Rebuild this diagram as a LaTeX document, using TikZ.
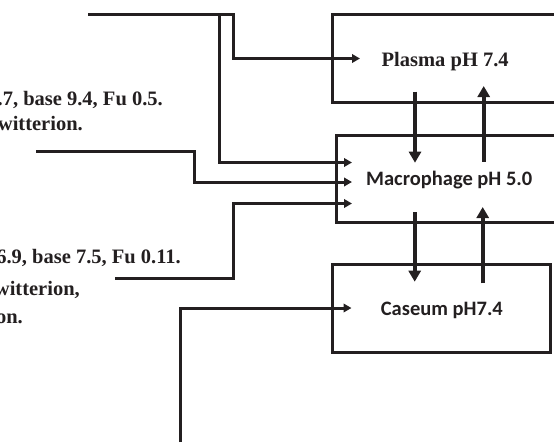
\documentclass[tikz,border=0pt]{standalone}
\usepackage{fontspec}
\setmainfont{Liberation Serif}
\newfontfamily\calibfont{Carlito}
\usetikzlibrary{arrows.meta}
\definecolor{ink}{HTML}{231F20}
\tikzset{
  box/.style={draw=ink, line width=3pt, rectangle, inner sep=0pt, outer sep=0pt, anchor=north west},
  conn/.style={draw=ink, line width=3pt, line join=miter},
  inarrow/.style={conn, -{Triangle[length=8pt,width=8.5pt]}},
  vflow/.style={draw=ink, line width=3.6pt, -{Triangle[length=11pt,width=12pt]}},
  serlabel/.style={inner sep=0pt, text=ink, font=\fontsize{20.5}{24}\selectfont\bfseries},
  sanslabel/.style={inner sep=0pt, text=ink, font=\fontsize{20.5}{24}\selectfont\calibfont\bfseries},
}
\begin{document}
\begin{tikzpicture}[x=1pt,y=-1pt]
\useasboundingbox (0,0) rectangle (554,442);
% boxes
\node[box, minimum width=300pt, minimum height=87.6pt] (plasma) at (332.3,14.7) {};
\node[box, minimum width=300pt, minimum height=87.7pt] (macro) at (336.7,135) {};
\node[box, minimum width=218.4pt, minimum height=87.7pt] (caseum) at (332.3,264.3) {};
% box labels
\node[serlabel, anchor=base west] (plasmatxt) at (381.5,66.5) {Plasma pH 7.4};
\node[sanslabel, anchor=base west] (macrotxt) at (366,185.3) {Macrophage pH 5.0};
\node[sanslabel, anchor=base west] (caseumtxt) at (380.7,315) {Caseum pH7.4};
% left texts
\node[serlabel, anchor=base east] (t1a) at (163,105) {2.7, base 9.4, Fu 0.5.};
\node[serlabel, anchor=base east] (t1b) at (83,130.5) {Zwitterion.};
\node[serlabel, anchor=base east] (t2a) at (181,263.5) {6.9, base 7.5, Fu 0.11.};
\node[serlabel, anchor=base east] (t2b) at (80,295) {Zwitterion,};
\node[serlabel, anchor=base east] (t2c) at (23,323) {Cation.};
% connector points
\coordinate (srcA) at (88,14.3);
\coordinate (cA1) at (233.3,14.3);
\coordinate (cA2) at (233.3,58.5);
\coordinate (tipA) at (360,58.5);
\coordinate (srcB) at (219,14.3);
\coordinate (cB) at (219,162.5);
\coordinate (tipB) at (352,162.5);
\coordinate (srcC) at (36,151);
\coordinate (cC1) at (194.3,151);
\coordinate (cC2) at (194.3,182);
\coordinate (tipC) at (352,182);
\coordinate (srcD) at (115,278);
\coordinate (cD1) at (233.3,278);
\coordinate (cD2) at (233.3,203.5);
\coordinate (tipD) at (352,203.5);
\coordinate (srcE) at (180.7,442);
\coordinate (cE) at (180.7,308);
\coordinate (tipE) at (351.5,308);
% inputs
\draw[inarrow] (srcA) -- (cA1) -- (cA2) -- (tipA);
\draw[inarrow] (srcB) -- (cB) -- (tipB);
\draw[inarrow] (srcC) -- (cC1) -- (cC2) -- (tipC);
\draw[inarrow] (srcD) -- (cD1) -- (cD2) -- (tipD);
\draw[inarrow] (srcE) -- (cE) -- (tipE);
% exchanges
\coordinate (pmS) at (415,91.7);
\coordinate (pmT) at (415,162.7);
\coordinate (mpS) at (483.7,161.7);
\coordinate (mpT) at (483.7,86);
\coordinate (mcS) at (414.7,212.3);
\coordinate (mcT) at (414.7,281.7);
\coordinate (cmS) at (482.7,283.3);
\coordinate (cmT) at (482.7,207);
\draw[vflow] (pmS) -- (pmT);
\draw[vflow] (mpS) -- (mpT);
\draw[vflow] (mcS) -- (mcT);
\draw[vflow] (cmS) -- (cmT);
\end{tikzpicture}
\end{document}
